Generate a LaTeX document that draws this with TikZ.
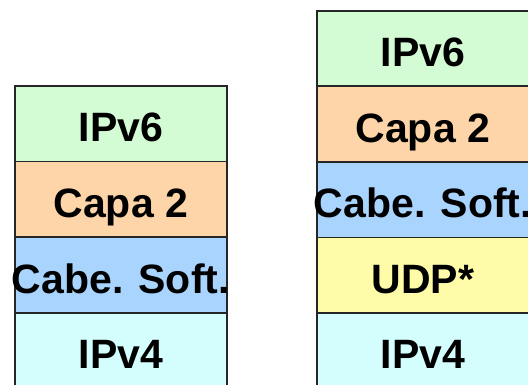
\documentclass[tikz,border=0pt]{standalone}
\usepackage{fontspec}
\setmainfont{Liberation Sans}
\definecolor{cgreen}{HTML}{D4FCD4}
\definecolor{corange}{HTML}{FED5A8}
\definecolor{cblue}{HTML}{A8D4FE}
\definecolor{cyellow}{HTML}{FEFCA8}
\definecolor{ccyan}{HTML}{D4FEFE}
\newcommand{\lyrtxt}[1]{\makebox[0pt][c]{#1}}
\tikzset{
  layer/.style={draw=black!85, line width=1.6pt, rectangle, anchor=north west,
    minimum width=212pt, minimum height=75.7pt, inner sep=0pt,
    text height=36pt, text depth=0pt,
    font=\fontsize{41}{41}\selectfont\bfseries}
}
\begin{document}
\begin{tikzpicture}[x=1pt,y=-1pt]
\useasboundingbox (0,0) rectangle (528,385);
\clip (0,0) rectangle (528,385);
% left stack
\node[layer, fill=cgreen]   (l1) at (14,85)    {\lyrtxt{IPv6}};
\node[layer, fill=corange]  (l2) at (14,160.7) {\lyrtxt{Capa 2}};
\node[layer, fill=cblue]    (l3) at (14,236.4) {\lyrtxt{Cabe. Soft.}};
\node[layer, fill=ccyan]    (l4) at (14,312.1) {\lyrtxt{IPv4}};
% right stack
\node[layer, fill=cgreen]   (r1) at (316,10)    {\lyrtxt{IPv6}};
\node[layer, fill=corange]  (r2) at (316,85.5)  {\lyrtxt{Capa 2}};
\node[layer, fill=cblue]    (r3) at (316,161.1) {\lyrtxt{Cabe. Soft.}};
\node[layer, fill=cyellow]  (r4) at (316,236.7) {\lyrtxt{UDP*}};
\node[layer, fill=ccyan]    (r5) at (316,312.3) {\lyrtxt{IPv4}};
\end{tikzpicture}
\end{document}
